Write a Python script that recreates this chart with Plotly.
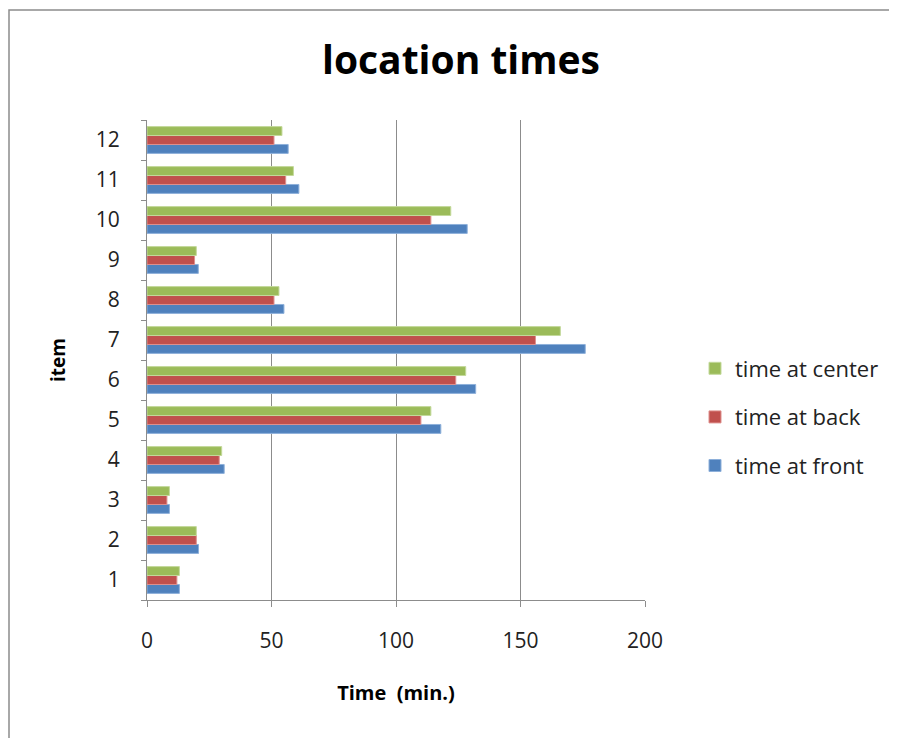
import plotly.graph_objects as go

items = ["1", "2", "3", "4", "5", "6", "7", "8", "9", "10", "11", "12"]
time_front = [13, 20.7, 9, 31, 118, 132, 176, 55, 20.6, 128.6, 61, 56.7]
time_back = [12, 19.8, 8, 29, 110, 124, 156, 51, 19.1, 114, 55.7, 51]
time_center = [13, 19.8, 9, 30, 114, 128, 166, 53, 19.8, 122, 58.8, 54.2]
x_ticks = [0, 50, 100, 150, 200]

series = [
    ("time at front", time_front, "#4F81BD", "#8EB0DA", 3),
    ("time at back", time_back, "#C0504D", "#DE8F8D", 2),
    ("time at center", time_center, "#9BBB59", "#C3D99B", 1),
]

fig = go.Figure()
for name, vals, col, edge, rank in series:
    fig.add_trace(go.Bar(
        y=items, x=vals, name=name, orientation="h",
        marker=dict(color=col, line=dict(color=edge, width=1)),
        legendgroup=name, legendrank=rank,
    ))

# the page body adds an 8px offset, so the figure is sized to 889x730
W, H = 889, 730
L, T = 139, 112
R, B = 252, 138
PW, PH = W - L - R, H - T - B  # 498 x 480

font_family = "'Open Sans', sans-serif"
fig.update_layout(
    width=W, height=H,
    margin=dict(l=L, r=R, t=T, b=B),
    paper_bgcolor="white", plot_bgcolor="white",
    barmode="group", bargap=0.33, bargroupgap=0,
    font=dict(family=font_family, size=21, color="#222222"),
    title=dict(text="<b>location times</b>", x=(461 - 8) / W, xref="container", xanchor="center",
               y=1 - 52 / H, yref="container", yanchor="middle",
               font=dict(size=39, color="black", family=font_family)),
    legend=dict(x=(695 - 147) / PW, xanchor="left", y=(600 - 417) / PH, yanchor="middle",
                traceorder="grouped", tracegroupgap=17,
                font=dict(size=22, color="#222222")),
    showlegend=True,
    xaxis=dict(range=[0, 200], tickvals=x_ticks, showgrid=True, gridcolor="#8C8C8C", gridwidth=1,
               showline=True, linecolor="#8C8C8C", linewidth=1, ticks="outside", ticklen=6,
               tickcolor="#8C8C8C", ticklabelstandoff=16, zeroline=False,
               title=dict(text="<b>Time  (min.)</b>", font=dict(size=20, color="black"), standoff=32)),
    yaxis=dict(type="category", categoryorder="array", categoryarray=items, range=[-0.5, 11.5],
               showgrid=False, showline=True, linecolor="#8C8C8C", linewidth=1,
               ticks="outside", tickson="boundaries", ticklen=5, tickcolor="#8C8C8C",
               ticklabelstandoff=22,
               title=dict(text="<b>item</b>", font=dict(size=19, color="black"), standoff=25)),
    shapes=[dict(type="rect", xref="paper", yref="paper",
                 x0=(9 - 147) / PW, x1=(960 - 147) / PW, y0=(600 - 800) / PH, y1=(600 - 10) / PH,
                 line=dict(color="#8C8C8C", width=1.5), layer="below")],
)

fig.write_html("out.html")
